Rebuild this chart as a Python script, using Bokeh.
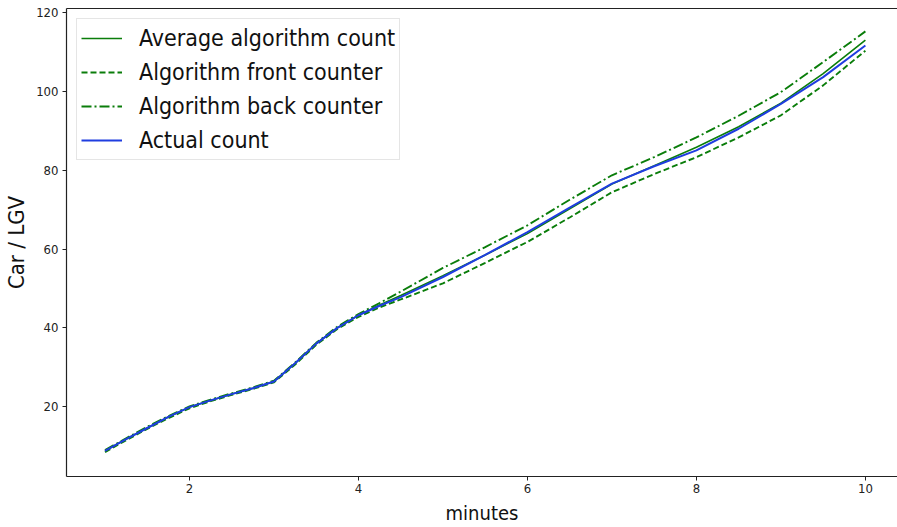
from bokeh.plotting import figure
from bokeh.models import Legend, LegendItem, LinearAxis, FixedTicker, Range1d
from bokeh.embed import file_html
from bokeh.resources import INLINE

minutes = [1, 1.25, 1.5, 1.75, 2, 2.25, 2.5, 2.75, 3, 3.25, 3.5, 3.75, 4,
           4.25, 4.5, 5, 5.5, 6, 6.5, 7, 7.5, 8, 8.5, 9, 9.5, 10]
actual = [8.8, 11.8, 14.6, 17.4, 19.9, 21.6, 23.2, 24.7, 26.4, 31.0, 36.0, 40.0, 43.2,
          45.6, 47.8, 52.9, 58.5, 64.3, 70.5, 76.6, 81.0, 85.0, 90.5, 96.8, 103.6, 111.6]
front = [8.5, 11.5, 14.4, 17.1, 19.6, 21.4, 23.0, 24.5, 26.2, 30.7, 35.7, 39.7, 42.8,
         45.2, 47.2, 51.3, 56.5, 61.8, 68.0, 74.4, 79.0, 83.3, 88.3, 93.9, 101.5, 110.3]
back = [9.0, 12.0, 14.9, 17.6, 20.1, 21.8, 23.4, 24.9, 26.6, 31.2, 36.2, 40.3, 43.5,
        46.3, 49.2, 55.2, 60.5, 66.0, 72.5, 78.7, 83.3, 88.3, 93.8, 99.8, 107.4, 115.2]
average = [8.8, 11.8, 14.6, 17.4, 19.9, 21.6, 23.2, 24.7, 26.4, 31.0, 36.0, 40.0, 43.2,
           45.8, 48.2, 53.2, 58.5, 63.9, 70.2, 76.5, 81.1, 85.8, 91.0, 97.0, 104.5, 113.0]

x_ticks = [2, 4, 6, 8, 10]
y_ticks = [20, 40, 60, 80, 100, 120]

FONT = "DejaVu Sans Condensed"
GREEN = "#0a7d0a"
BLUE = "#1f3de0"

p = figure(width=897, height=527, output_backend="svg", toolbar_location=None,
           x_range=Range1d(0.544, 10.38), y_range=Range1d(2.3, 121.0),
           min_border_left=66, min_border_right=0, min_border_top=8,
           min_border_bottom=51)
p.background_fill_color = "white"
p.border_fill_color = "white"
p.outline_line_color = None
p.grid.visible = False

r_avg = p.line(minutes, average, line_color=GREEN, line_width=1.6)
r_front = p.line(minutes, front, line_color=GREEN, line_width=1.9, line_dash="6 3")
r_back = p.line(minutes, back, line_color=GREEN, line_width=1.9, line_dash="10 3 2 3")
r_act = p.line(minutes, actual, line_color=BLUE, line_width=2)

for ax in (p.xaxis[0], p.yaxis[0]):
    ax.axis_line_color = "#222222"
    ax.axis_line_width = 1.2
    ax.major_tick_line_color = "#222222"
    ax.major_tick_out = 4
    ax.major_tick_in = 0
    ax.minor_tick_line_color = None
    ax.major_label_text_font = FONT
    ax.major_label_text_font_size = "13px"
    ax.major_label_text_color = "#222222"
    ax.axis_label_text_font = FONT
    ax.axis_label_text_font_style = "normal"
    ax.axis_label_text_color = "#111111"

p.xaxis.ticker = FixedTicker(ticks=x_ticks)
p.yaxis.ticker = FixedTicker(ticks=y_ticks)
p.xaxis.axis_label = "minutes"
p.yaxis.axis_label = "Car / LGV"
p.xaxis.axis_label_text_font_size = "20px"
p.yaxis.axis_label_text_font_size = "22px"
p.xaxis.major_label_standoff = 3
p.yaxis.major_label_standoff = 4
p.xaxis.axis_label_standoff = 5
p.yaxis.axis_label_standoff = 4

top = LinearAxis(ticker=FixedTicker(ticks=[]), axis_line_color="#222222",
                 axis_line_width=1.2, major_tick_line_color=None,
                 minor_tick_line_color=None, major_label_text_font_size="0px")
p.add_layout(top, "above")

legend = Legend(items=[
    LegendItem(label="Average algorithm count", renderers=[r_avg]),
    LegendItem(label="Algorithm front counter", renderers=[r_front]),
    LegendItem(label="Algorithm back counter", renderers=[r_back]),
    LegendItem(label="Actual count", renderers=[r_act]),
], location="top_left")
legend.label_text_font = FONT
legend.label_text_font_size = "23px"
legend.label_text_color = "#111111"
legend.glyph_width = 41
legend.glyph_height = 30
legend.label_height = 30
legend.spacing = 4
legend.label_standoff = 17
legend.padding = 4
legend.margin = 10
legend.border_line_color = "#cccccc"
legend.border_line_width = 1
legend.background_fill_alpha = 0.9
p.add_layout(legend)

open("out.html", "w").write(file_html(p, INLINE))
